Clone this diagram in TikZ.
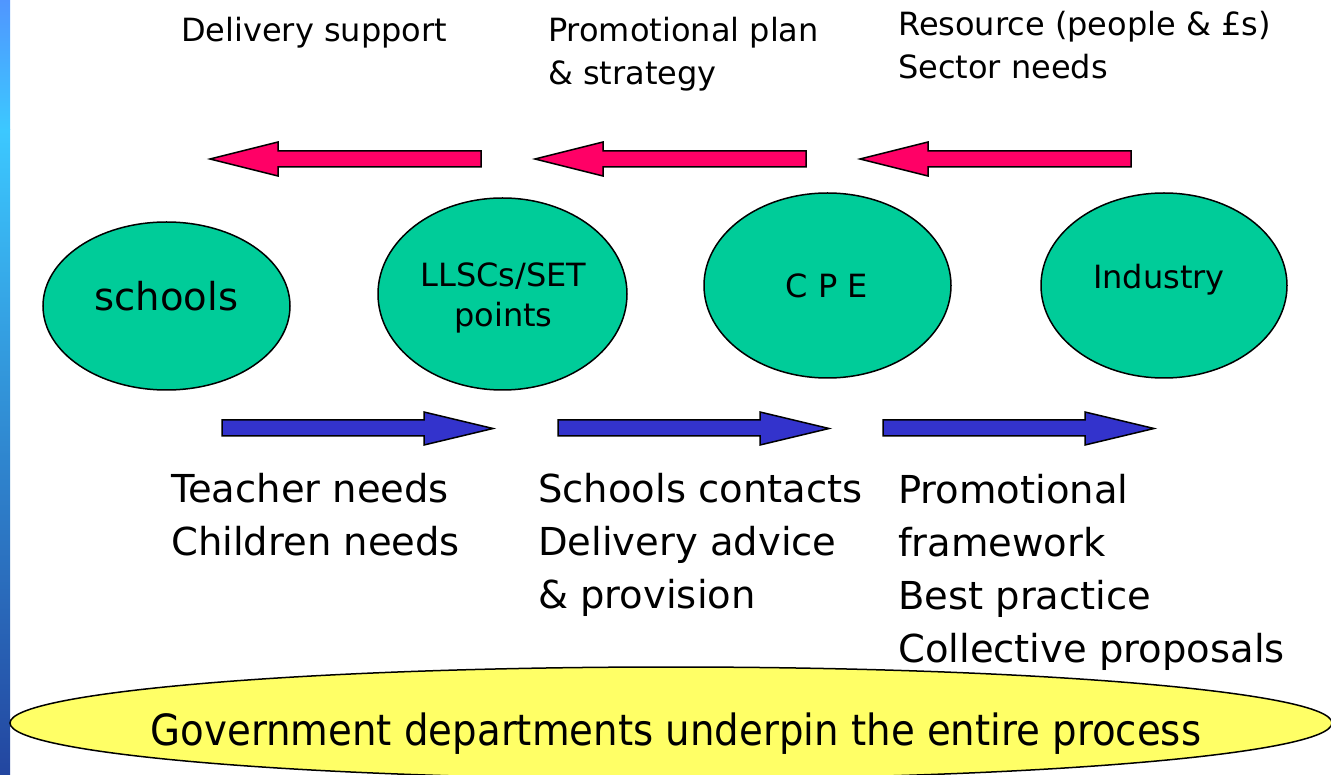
\documentclass[tikz,border=0pt]{standalone}
\usepackage{fontspec}
\setmainfont{DejaVu Sans}
\newfontfamily\govfont{DejaVu Sans}[FakeStretch=0.9]
\usetikzlibrary{shapes.geometric}

\definecolor{stakeholder}{RGB}{0,204,153}
\definecolor{backflow}{RGB}{255,0,102}
\definecolor{forwardflow}{RGB}{51,51,204}
\definecolor{basefill}{RGB}{255,255,102}
\definecolor{stripA}{RGB}{80,150,255}
\definecolor{stripB}{RGB}{60,200,255}
\definecolor{stripC}{RGB}{55,110,250}
\definecolor{stripD}{RGB}{35,70,160}

% multi-line nodes below are placed by the baseline of their last line
\tikzset{
  party/.style={ellipse, draw=black, line width=1.5pt, fill=stakeholder, inner sep=0pt},
  partytext/.style={anchor=base, inner sep=0pt, font=\fontsize{32}{40}\selectfont},
  toplabel/.style={anchor=base west, align=left, inner sep=0pt, font=\fontsize{32}{43}\selectfont},
  lowlabel/.style={anchor=base west, align=left, inner sep=0pt, font=\fontsize{38.5}{53}\selectfont},
  leftarrow/.style={draw=black, line width=1.5pt, fill=backflow},
  rightarrow/.style={draw=black, line width=1.5pt, fill=forwardflow},
}

\begin{document}
\begin{tikzpicture}[x=1pt, y=-1pt]
  \useasboundingbox (0,0) rectangle (1331,775);
  \fill[white] (0,0) rectangle (1331,775);

  % coloured strip along the left edge
  \shade[top color=stripA, bottom color=stripB] (0,0) rectangle (10,130);
  \shade[top color=stripB, middle color=stripC, bottom color=stripD] (0,130) rectangle (10,775);

  % the four parties
  \node[party, minimum width=247pt, minimum height=168pt] (schools) at (166.5,306) {};
  \node[party, minimum width=249pt, minimum height=192pt] (llsc) at (502.5,294) {};
  \node[party, minimum width=247pt, minimum height=185pt] (cpe) at (827.5,285.5) {};
  \node[party, minimum width=246pt, minimum height=185pt] (industry) at (1164,285.5) {};

  \node[partytext, font=\fontsize{38.5}{40}\selectfont] (schoolsT) at (166.5,311) {schools};
  \node[partytext, align=center] (llscT) at (503.5,327) {LLSCs/SET\\points};
  \node[partytext] (cpeT) at (827,298) {C P E};
  \node[partytext] (industryT) at (1159,289) {Industry};

  % flows back towards the schools (red)
  \foreach \dx/\nm in {0/ra, 325/rb, 650/rc}{
    \draw[leftarrow, shift={(\dx,0)}]
      (210,159) coordinate (\nm tip) -- (278,142) -- (278,151) -- (481,151)
      -- (481,167) -- (278,167) -- (278,176) -- cycle;
  }

  % flows towards industry (blue)
  \foreach \dx/\nm in {0/ba, 336/bb, 661/bc}{
    \draw[rightarrow, shift={(\dx,0)}]
      (222,420) -- (424,420) -- (424,412) -- (493,428.5) coordinate (\nm tip)
      -- (424,445) -- (424,436) -- (222,436) -- cycle;
  }

  % labels above the red arrows
  \node[toplabel] (supportT) at (181,42) {Delivery support};
  \node[toplabel] (planT) at (548,85) {Promotional plan\\\& strategy};
  \node[toplabel] (resourceT) at (898,79) {Resource (people \& £s)\\Sector needs};

  % labels below the blue arrows
  \node[lowlabel] (needsT) at (171,555) {Teacher needs\\Children needs};
  \node[lowlabel] (contactsT) at (538,608) {Schools contacts\\Delivery advice\\\& provision};
  \node[lowlabel] (frameworkT) at (898,662) {Promotional\\framework\\Best practice\\Collective proposals};

  % government base
  \node[ellipse, draw=black, line width=1.5pt, fill=basefill, inner sep=0pt,
        minimum width=1322pt, minimum height=112pt] (gov) at (671,723) {};
  \node[anchor=base, inner sep=0pt, font=\govfont\fontsize{43}{50}\selectfont]
    (govT) at (676,745) {Government departments underpin the entire process};
\end{tikzpicture}
\end{document}
